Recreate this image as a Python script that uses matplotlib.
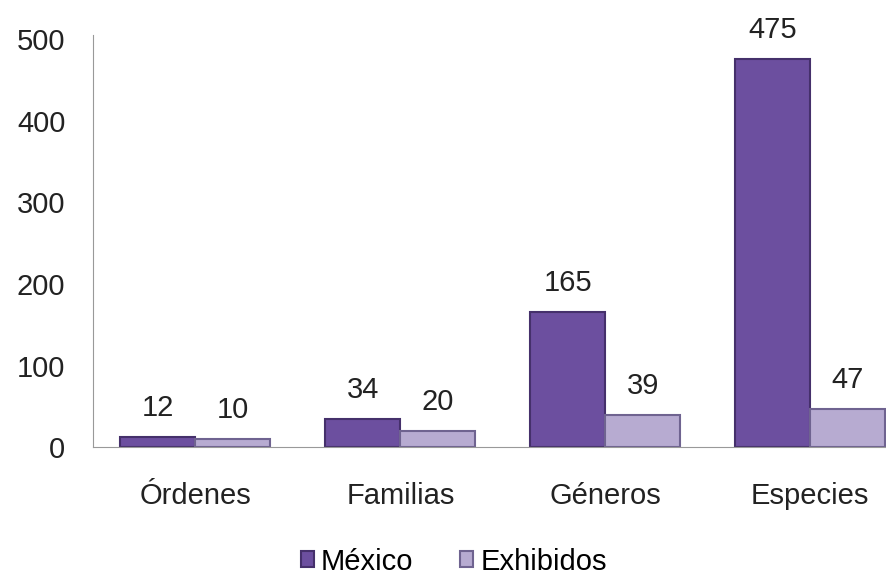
import numpy as np
import matplotlib.pyplot as plt

categorias = ['Órdenes', 'Familias', 'Géneros', 'Especies']
mexico = [12, 34, 165, 475]
exhibidos = [10, 20, 39, 47]

plt.rcParams['font.family'] = ['Liberation Sans', 'DejaVu Sans']

fig = plt.figure(figsize=(8.86, 5.8), dpi=100)
ax = fig.add_axes([0.105, 0.229, 0.895, 0.711])

x = np.arange(len(categorias))
w = 0.366
b1 = ax.bar(x - w/2, mexico, w, color='#6c4f9f', edgecolor='#45306b', linewidth=1.5, label='México')
b2 = ax.bar(x + w/2, exhibidos, w, color='#b7abd1', edgecolor='#6f6390', linewidth=1.5, label='Exhibidos')

for bars in (b1, b2):
    for r in bars:
        ax.annotate(str(int(r.get_height())), (r.get_x() + r.get_width()/2, r.get_height()),
                    xytext=(0, 11), textcoords='offset points', ha='center', va='bottom',
                    fontsize=21, color='#222222')

ax.set_xlim(-0.5, 3.37)
ax.set_ylim(0, 505)
ax.set_yticks([0, 100, 200, 300, 400, 500])
ax.set_xticks(x)
ax.set_xticklabels(categorias)
ax.tick_params(axis='both', labelsize=21, colors='#222222', length=0)
ax.tick_params(axis='x', pad=25)
ax.tick_params(axis='y', pad=20)
for s in ['top', 'right']:
    ax.spines[s].set_visible(False)
ax.spines['left'].set_color('#999999')
ax.spines['bottom'].set_color('#999999')

ax.legend(loc='upper center', bbox_to_anchor=(0.455, -0.18), ncol=2, frameon=False,
          fontsize=21, handlelength=0.45, handleheight=0.45, handletextpad=0.25, columnspacing=1.6)

fig.savefig('out.png', dpi=100)
